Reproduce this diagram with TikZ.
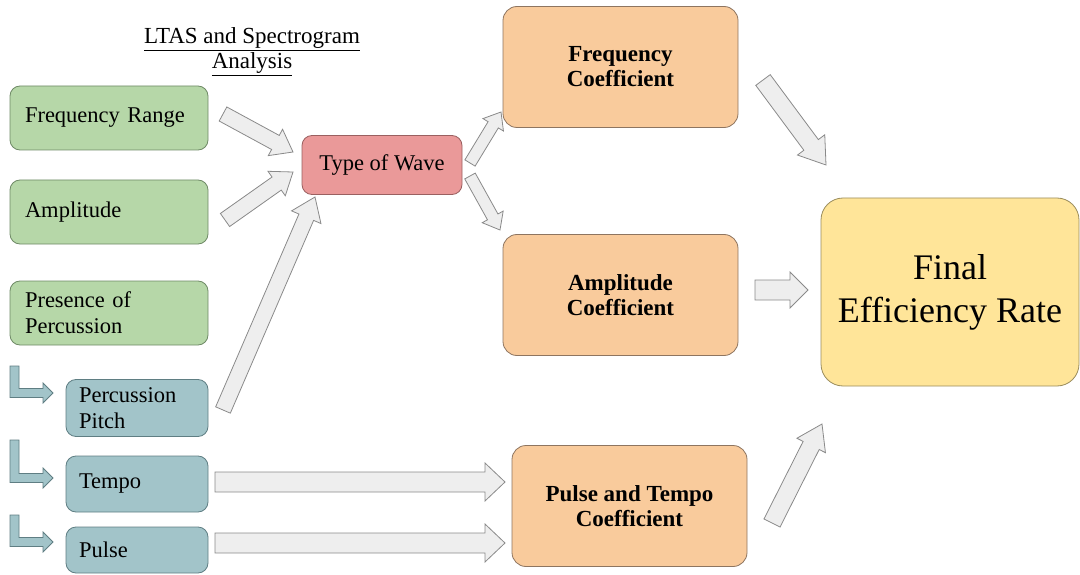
\documentclass[tikz,border=0pt]{standalone}
\usepackage{fontspec}
\setmainfont{Liberation Serif}
\usetikzlibrary{calc}
\definecolor{gfill}{HTML}{B6D7A8}
\definecolor{gline}{HTML}{6F8A66}
\definecolor{bfill}{HTML}{A2C4C9}
\definecolor{bline}{HTML}{5F7E83}
\definecolor{rfill}{HTML}{EA9999}
\definecolor{rline}{HTML}{9A6060}
\definecolor{ofill}{HTML}{F9CB9C}
\definecolor{oline}{HTML}{8E7560}
\definecolor{yfill}{HTML}{FFE599}
\definecolor{yline}{HTML}{9A8C5C}
\definecolor{afill}{HTML}{EEEEEE}
\definecolor{aline}{HTML}{8A8A8A}
\newcommand{\blockarrow}[5]{%
  \draw[barrow] let \p1=(#1), \p2=(#2), \n1={atan2(\y2-\y1,\x2-\x1)}, \n2={veclen(\x2-\x1,\y2-\y1)} in
  ($(\p1)+(\n1+90:#3)$) -- ($(\p1)+(\n1:\n2-#5)+(\n1+90:#3)$) -- ($(\p1)+(\n1:\n2-#5)+(\n1+90:#4)$) -- (\p2)
  -- ($(\p1)+(\n1:\n2-#5)+(\n1-90:#4)$) -- ($(\p1)+(\n1:\n2-#5)+(\n1-90:#3)$) -- ($(\p1)+(\n1-90:#3)$) -- cycle;}
\newcommand{\bentarrow}[2]{%
  \draw[bent] (10,#1) -- (19,#1) -- (19,#2-4.5) -- (43,#2-4.5) -- (43,#2-10) -- (53,#2) -- (43,#2+10) -- (43,#2+4.5) -- (10,#2+4.5) -- cycle;}
\begin{document}
\begin{tikzpicture}[x=1pt,y=-1pt,
  box/.style={draw, rounded corners=10pt, line width=0.8pt, inner sep=0pt, font=\fontsize{22.5}{26}\selectfont},
  greenbox/.style={box, fill=gfill, draw=gline, minimum width=198pt, minimum height=64pt, text width=168pt, align=left},
  bluebox/.style={box, fill=bfill, draw=bline, minimum width=142pt, text width=116pt, align=left},
  redbox/.style={box, fill=rfill, draw=rline, minimum width=160pt, minimum height=59pt, align=center},
  orangebox/.style={box, fill=ofill, draw=oline, rounded corners=14pt, minimum width=235pt, minimum height=121pt, align=center, font=\fontsize{23}{25}\selectfont\bfseries},
  finalbox/.style={box, fill=yfill, draw=yline, rounded corners=22pt, minimum width=258pt, minimum height=188pt, align=center, font=\fontsize{36}{43}\selectfont},
  barrow/.style={draw=aline, fill=afill, line width=0.8pt, line join=miter},
  bent/.style={draw=bline, fill=bfill, line width=0.8pt}]
\useasboundingbox (0,0) rectangle (1080,575);

\node[font=\fontsize{23}{25}\selectfont, align=center] (title) at (252,52) {\underline{LTAS and Spectrogram}\\\underline{Analysis}};

\node[greenbox] (fr) at (109,118) {Frequency Range};
\node[greenbox] (amp) at (109,212) {Amplitude};
\node[greenbox] (pres) at (109,313) {Presence of\\Percussion};
\node[bluebox, minimum height=57pt] (pp) at (137,408) {Percussion\\Pitch};
\node[bluebox, minimum height=56pt] (tempo) at (137,484) {Tempo};
\node[bluebox, minimum height=46pt] (pulse) at (137,550) {Pulse};

\node[redbox] (tow) at (382,165) {Type of Wave};

\node[orangebox] (fc) at (620.5,67) {Frequency\\Coefficient};
\node[orangebox] (ac) at (620.5,295) {Amplitude\\Coefficient};
\node[orangebox] (pt) at (629.5,506) {Pulse and Tempo\\Coefficient};

\node[finalbox] (final) at (950,292) {Final\\Efficiency Rate};

\bentarrow{366}{393}
\bentarrow{440}{478}
\bentarrow{515}{542}

\coordinate (a1s) at (223,114); \coordinate (a1e) at (293,152);
\coordinate (a2s) at (225,220); \coordinate (a2e) at (293,172);
\coordinate (a3s) at (223,410); \coordinate (a3e) at (315,197);
\coordinate (a4s) at (470,163); \coordinate (a4e) at (501,112);
\coordinate (a5s) at (470,176); \coordinate (a5e) at (500,230);
\coordinate (a6s) at (763,80); \coordinate (a6e) at (826,165);
\coordinate (a7s) at (755,290); \coordinate (a7e) at (808,290);
\coordinate (a8s) at (772,523); \coordinate (a8e) at (822,424);
\coordinate (a9s) at (215,482); \coordinate (a9e) at (505,482);
\coordinate (a10s) at (215,543); \coordinate (a10e) at (505,543);

\blockarrow{a1s}{a1e}{8pt}{15pt}{20pt}
\blockarrow{a2s}{a2e}{8pt}{15pt}{20pt}
\blockarrow{a3s}{a3e}{8pt}{16pt}{22pt}
\blockarrow{a4s}{a4e}{6pt}{12pt}{15pt}
\blockarrow{a5s}{a5e}{6pt}{12pt}{15pt}
\blockarrow{a6s}{a6e}{9pt}{17pt}{25pt}
\blockarrow{a7s}{a7e}{10pt}{18pt}{18pt}
\blockarrow{a8s}{a8e}{9pt}{16pt}{24pt}
\blockarrow{a9s}{a9e}{10pt}{19pt}{20pt}
\blockarrow{a10s}{a10e}{10pt}{19pt}{20pt}
\end{tikzpicture}
\end{document}
